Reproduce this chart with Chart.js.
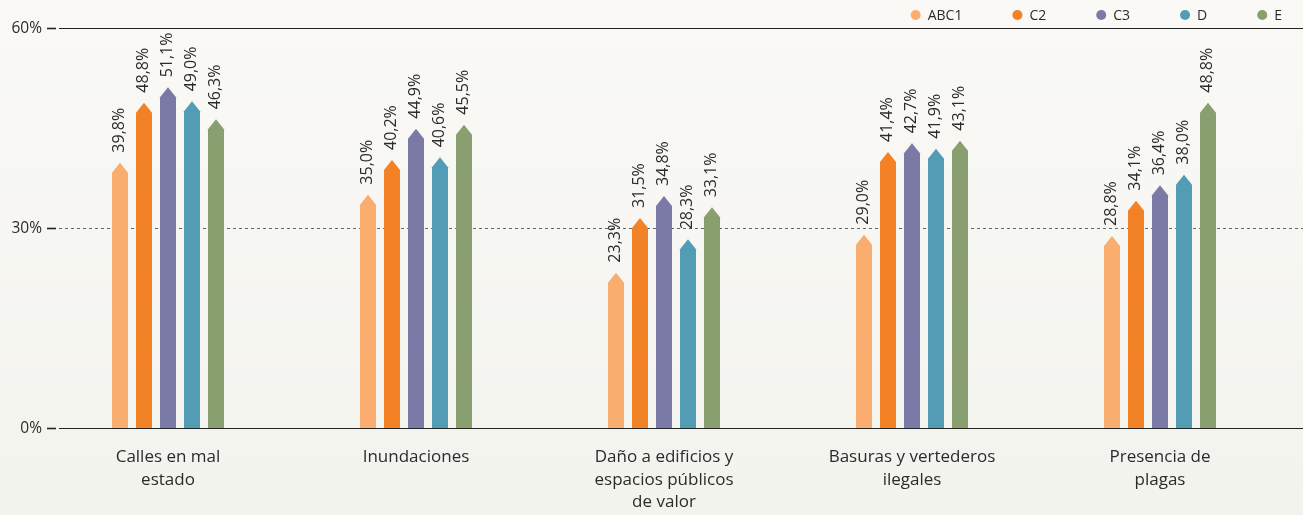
<!DOCTYPE html>
<html>
<head>
<meta charset="utf-8">
<script src="https://cdn.jsdelivr.net/npm/chart.js@4/dist/chart.umd.min.js"></script>
<style>
html,body{margin:0;padding:0;}
body{background:linear-gradient(#faf9f6,#f3f3ee);width:1303px;height:515px;overflow:hidden;}
#wrap{width:1303px;height:515px;position:relative;}
</style>
</head>
<body>
<div id="wrap"><canvas id="chart"></canvas></div>
<script>

//=============================
// DATA
//=============================

const categories = [
    ["Calles en mal", "estado"],
    ["Inundaciones"],
    ["Daño a edificios y", "espacios públicos", "de valor"],
    ["Basuras y vertederos", "ilegales"],
    ["Presencia de", "plagas"]
];

const seriesNames = ["ABC1", "C2", "C3", "D", "E"];

const abc1 = [39.8, 35.0, 23.3, 29.0, 28.8];
const c2   = [48.8, 40.2, 31.5, 41.4, 34.1];
const c3   = [51.1, 44.9, 34.8, 42.7, 36.4];
const d    = [49.0, 40.6, 28.3, 41.9, 38.0];
const e    = [46.3, 45.5, 33.1, 43.1, 48.8];

const yTicks = [0, 30, 60];

const colors = ["#f9ae6f", "#f28225", "#7b7aa7", "#529cb5", "#899f70"];

const FONT = "'Open Sans', Lato, sans-serif";
const TEXT = "#2b2b2b";

//=============================
// PLUGINS
//=============================

// horizontal lines + y labels
const axisPlugin = {
    id: "axisLines",
    beforeDatasetsDraw(chart){
        const ctx = chart.ctx;
        const y = chart.scales.y;
        const left = chart.chartArea.left;
        ctx.save();
        ctx.font = "15.5px " + FONT;
        ctx.fillStyle = TEXT;
        ctx.textAlign = "right";
        ctx.textBaseline = "middle";
        yTicks.forEach(v => {
            const py = Math.round(y.getPixelForValue(v)) + 0.5;
            ctx.fillText(v + "%", left - 2, py);
            ctx.strokeStyle = "#222";
            ctx.lineWidth = 1.6;
            ctx.setLineDash([]);
            ctx.beginPath();
            ctx.moveTo(left + 3, py);
            ctx.lineTo(left + 12, py);
            ctx.stroke();
            ctx.lineWidth = 1;
            if(v === 30){
                ctx.strokeStyle = "#666";
                ctx.setLineDash([3, 3]);
            } else {
                ctx.strokeStyle = "#222";
            }
            ctx.beginPath();
            ctx.moveTo(left + 15, py);
            ctx.lineTo(chart.width, py);
            ctx.stroke();
        });
        ctx.restore();
    }
};

// pointed bars + rotated value labels
const arrowBars = {
    id: "arrowBars",
    beforeDatasetsDraw(chart){
        const ctx = chart.ctx;
        ctx.save();
        chart.data.datasets.forEach((ds, i) => {
            const meta = chart.getDatasetMeta(i);
            meta.data.forEach((bar, j) => {
                const p = bar.getProps(["x", "y", "base", "width"], true);
                const hw = p.width / 2;
                const tipH = 10;
                ctx.fillStyle = ds.backgroundColor;
                ctx.beginPath();
                ctx.moveTo(p.x - hw, p.base);
                ctx.lineTo(p.x - hw, p.y + tipH);
                ctx.lineTo(p.x, p.y);
                ctx.lineTo(p.x + hw, p.y + tipH);
                ctx.lineTo(p.x + hw, p.base);
                ctx.closePath();
                ctx.fill();

                ctx.save();
                ctx.translate(p.x - 1, p.y - 10);
                ctx.rotate(-Math.PI / 2);
                ctx.font = "16px " + FONT;
                ctx.fillStyle = TEXT;
                ctx.textAlign = "left";
                ctx.textBaseline = "middle";
                ctx.fillText(ds.data[j].toFixed(1).replace(".", ",") + "%", 0, 0);
                ctx.restore();
            });
        });
        ctx.restore();
        return false;
    }
};

// legend top right
const legendPlugin = {
    id: "dotLegend",
    afterDraw(chart){
        const ctx = chart.ctx;
        ctx.save();
        ctx.font = "14px " + FONT;
        ctx.textBaseline = "middle";
        const gap = 50, dotToText = 17;
        let total = 0;
        const widths = chart.data.datasets.map(ds => ctx.measureText(ds.label).width);
        widths.forEach(w => total += dotToText + w);
        total += gap * (widths.length - 1);
        let x = chart.width - 21 - total;
        const cy = 15;
        chart.data.datasets.forEach((ds, i) => {
            ctx.fillStyle = ds.backgroundColor;
            ctx.beginPath();
            ctx.arc(x + 5, cy, 5, 0, Math.PI * 2);
            ctx.fill();
            ctx.fillStyle = TEXT;
            ctx.fillText(ds.label, x + dotToText, cy + 1);
            x += dotToText + widths[i] + gap;
        });
        ctx.restore();
    }
};

//=============================
// CHART
//=============================

const values = [abc1, c2, c3, d, e];

new Chart(document.getElementById("chart"), {
    type: "bar",
    data: {
        labels: categories,
        datasets: seriesNames.map((name, i) => ({
            label: name,
            data: values[i],
            backgroundColor: colors[i],
            categoryPercentage: 120 / 248,
            barPercentage: 16 / 24
        }))
    },
    options: {
        responsive: true,
        maintainAspectRatio: false,
        animation: false,
        layout: {
            padding: { left: 44, right: 19, top: 28, bottom: 0 }
        },
        plugins: {
            legend: { display: false },
            tooltip: { enabled: false }
        },
        scales: {
            y: {
                display: false,
                min: 0,
                max: 60
            },
            x: {
                grid: { display: false, drawTicks: false },
                border: { display: false },
                ticks: {
                    autoSkip: false,
                    maxRotation: 0,
                    padding: 18,
                    color: TEXT,
                    font: { family: FONT, size: 17, lineHeight: 1.33 }
                },
                afterFit(scale){
                    scale.height = 87;
                }
            }
        }
    },
    plugins: [axisPlugin, arrowBars, legendPlugin]
});

</script>
</body>
</html>
